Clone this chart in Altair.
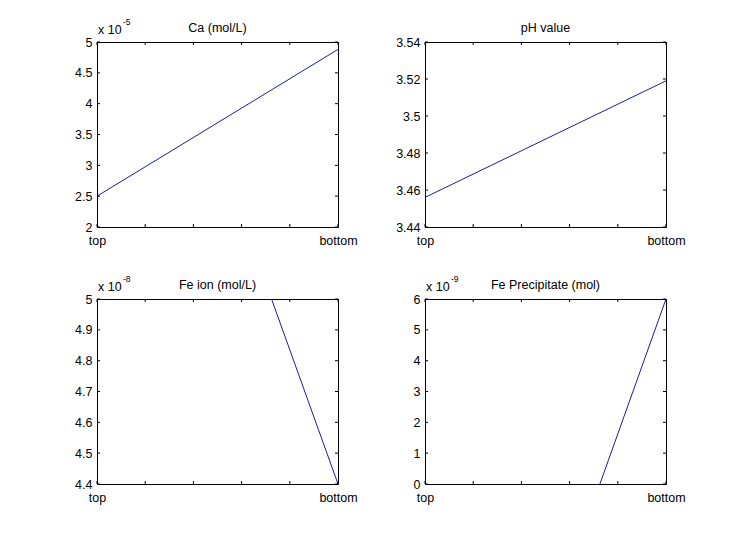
import altair as alt
import pandas as pd

FONT = "Liberation Sans"
FS = 12.5
LINE_COLOR = "#1c1c9c"
W, H = 241, 185

# x positions (0 = top ... 5 = bottom)
x_ticks = [0, 1, 2, 3, 4, 5]
x_label_values = [0, 5]

# Panel 1: Ca (mol/L), units of 1e-5
ca_x = [0, 5]
ca_y = [2.50, 4.88]
ca_ticks = [2, 2.5, 3, 3.5, 4, 4.5, 5]

# Panel 2: pH value
ph_x = [0, 5]
ph_y = [3.456, 3.519]
ph_ticks = [3.44, 3.46, 3.48, 3.50, 3.52, 3.54]

# Panel 3: Fe ion (mol/L), units of 1e-8
fe_x = [3, 5]
fe_y = [5.27, 4.40]
fe_ticks = [4.4, 4.5, 4.6, 4.7, 4.8, 4.9, 5.0]

# Panel 4: Fe Precipitate (mol), units of 1e-9
fp_x = [3, 5]
fp_y = [-2.75, 6.0]
fp_ticks = [0, 1, 2, 3, 4, 5, 6]


def panel(title, exponent, xs, ys, yticks):
    ydom = [yticks[0], yticks[-1]]
    xscale = alt.Scale(domain=[0, 5], nice=False, zero=False)
    yscale = alt.Scale(domain=ydom, nice=False, zero=False)
    xaxis = alt.Axis(
        values=x_label_values, title=None, grid=False, domain=False, ticks=False,
        tickSize=0, labelPadding=7, labelFlush=False, labelOverlap=False,
        labelExpr="datum.value == 0 ? 'top' : 'bottom'",
        labelFont=FONT, labelFontSize=FS, labelColor="black")
    yaxis = alt.Axis(
        values=yticks, title=None, grid=False, domain=False, ticks=False,
        tickSize=0, labelPadding=5, format="~g", labelOverlap=False,
        labelFont=FONT, labelFontSize=FS, labelColor="black")
    df = pd.DataFrame({"x": xs, "y": ys})
    line = alt.Chart(df).mark_line(clip=True, color=LINE_COLOR, strokeWidth=1).encode(
        x=alt.X("x:Q", scale=xscale, axis=xaxis),
        y=alt.Y("y:Q", scale=yscale, axis=yaxis),
    )
    ydf = pd.DataFrame({"v": yticks})
    xdf = pd.DataFrame({"v": x_ticks})
    ty1 = alt.Chart(ydf).mark_rule(color="black", strokeWidth=1).encode(
        y=alt.Y("v:Q", scale=yscale, axis=yaxis), x=alt.value(0), x2=alt.value(3))
    ty2 = alt.Chart(ydf).mark_rule(color="black", strokeWidth=1).encode(
        y=alt.Y("v:Q", scale=yscale, axis=yaxis), x=alt.value(W - 3), x2=alt.value(W))
    tx1 = alt.Chart(xdf).mark_rule(color="black", strokeWidth=1).encode(
        x=alt.X("v:Q", scale=xscale, axis=xaxis), y=alt.value(H), y2=alt.value(H - 3))
    tx2 = alt.Chart(xdf).mark_rule(color="black", strokeWidth=1).encode(
        x=alt.X("v:Q", scale=xscale, axis=xaxis), y=alt.value(0), y2=alt.value(3))
    ttl = alt.Chart(pd.DataFrame({"t": [title]})).mark_text(
        font=FONT, fontSize=FS, align="center", baseline="alphabetic", color="black"
    ).encode(text="t:N", x=alt.value(W / 2), y=alt.value(-10))
    layers = [line, ty1, ty2, tx1, tx2, ttl]
    if exponent is not None:
        e1 = alt.Chart(pd.DataFrame({"t": ["x 10"]})).mark_text(
            font=FONT, fontSize=FS, align="left", baseline="alphabetic", color="black"
        ).encode(text="t:N", x=alt.value(1), y=alt.value(-8))
        e2 = alt.Chart(pd.DataFrame({"t": [exponent]})).mark_text(
            font=FONT, fontSize=8.5, align="left", baseline="alphabetic", color="black"
        ).encode(text="t:N", x=alt.value(26), y=alt.value(-17))
        layers += [e1, e2]
    return alt.layer(*layers).properties(width=W, height=H)


p1 = panel("Ca (mol/L)", "-5", ca_x, ca_y, ca_ticks)
p2 = panel("pH value", None, ph_x, ph_y, ph_ticks)
p3 = panel("Fe ion (mol/L)", "-8", fe_x, fe_y, fe_ticks)
p4 = panel("Fe Precipitate (mol)", "-9", fp_x, fp_y, fp_ticks)

chart = alt.concat(
    p1, p2, p3, p4, columns=2,
    spacing=alt.RowColnumber(row=72, column=87),
    bounds="flush",
).properties(
    padding={"left": 66, "top": 9, "right": 5, "bottom": 5},
    background="white",
).configure_view(stroke="black", strokeWidth=1)

chart.save("out.html", embed_options={"renderer": "svg", "actions": False})
